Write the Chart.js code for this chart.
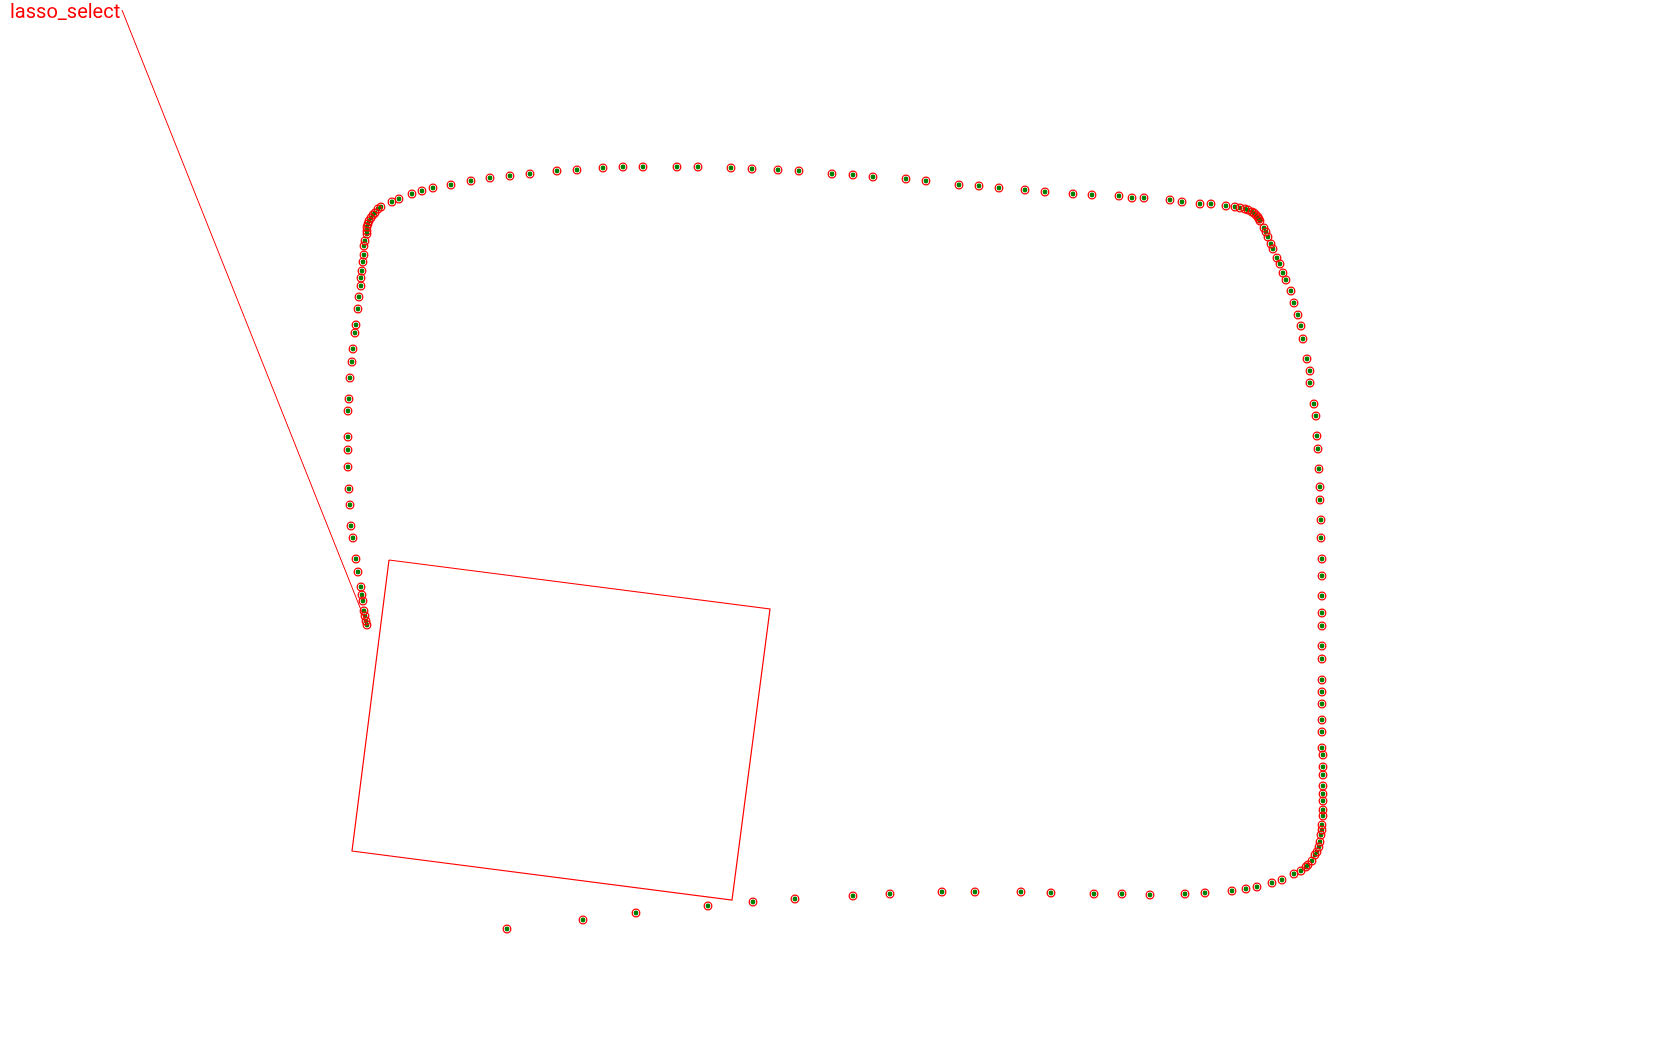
<!DOCTYPE html>
<html>
<head>
<meta charset="utf-8">
<script src="https://cdn.jsdelivr.net/npm/chart.js@4/dist/chart.umd.min.js"></script>
<style>
  html, body { margin: 0; padding: 0; background: #fff; }
  #wrap { position: relative; width: 1680px; height: 1050px; }
  #label { position: absolute; left: 10px; top: 0px; font: 20px Roboto, sans-serif; line-height: 22px; color: #ff0000; white-space: nowrap; }
  canvas { position: absolute; left: 0; top: 0; }
</style>
</head>
<body>
<div id="wrap">
  <canvas id="c" width="1680" height="1050"></canvas>
  <div id="label">lasso_select</div>
</div>
<script>
// Lasso path points (x, y in plot units; y grows downward)
const pointX = [367,366,365,364,363,362,361,358,356,353,351,350,349,348,348,348,348,349,350,352,353,355,356,358,359,361,361,362,363,364,364,365,367,367,367,368,369,371,373,375,378,381,
  392,399,412,422,433,451,471,490,510,530,557,577,603,623,643,677,698,731,752,778,799,832,853,873,906,926,959,979,999,1025,1045,1073,1092,1119,1132,1144,1170,1182,1200,1211,1226,1235,
  1240,1245,1248,1252,1254,1256,1258,1259,1260,
  1264,1266,1268,1271,1273,1277,1280,1283,1286,1291,1294,1298,1301,1303,1307,1310,1310,1314,1316,1317,1318,1319,1320,1320,1321,1321,1322,1322,1322,1322,1322,1322,1322,1322,1322,1322,1322,1322,1322,1323,1323,1323,1323,1323,1323,1323,1323,1322,1322,1321,1320,1319,1317,1315,1312,1308,1306,1301,1294,1282,1272,1257,1246,1232,1205,1185,1150,1122,1094,1051,1021,975,942,890,853,795,753,708,636,583,507];
const pointY = [625,621,616,611,601,595,587,572,559,538,526,505,489,467,450,437,411,399,378,362,349,333,325,309,297,286,278,271,262,255,246,241,234,231,227,224,221,218,215,213,209,207,
  202,199,194,191,188,185,181,178,176,174,171,170,168,167,167,167,167,168,169,170,171,174,175,177,179,181,185,186,188,190,192,194,195,196,198,198,200,202,204,204,206,207,
  208,209,210,212,213,215,217,219,221,
  228,232,237,244,249,258,264,273,280,291,303,315,326,339,359,371,383,404,416,436,449,469,487,500,520,538,559,576,596,613,626,646,659,680,692,704,720,732,748,755,767,775,786,794,801,810,816,825,830,835,842,847,852,855,861,865,867,871,874,880,883,887,889,891,893,894,895,894,894,893,892,892,892,894,896,899,902,906,913,920,929];

// Rotated selection rectangle corners (closed)
const rectX = [389, 770, 732, 352, 389];
const rectY = [560, 609, 900, 851, 560];

// Pointer line from the label to the lasso start
const pointerX = [122, 367];
const pointerY = [10, 625];

const zip = (xs, ys) => xs.map((x, i) => ({ x: x, y: ys[i] }));

new Chart(document.getElementById('c'), {
  type: 'scatter',
  data: {
    datasets: [
      {
        data: zip(rectX, rectY), showLine: true, borderColor: '#ff0000', borderWidth: 1.2,
        pointRadius: 0, fill: false, tension: 0, clip: false
      },
      {
        data: zip(pointerX, pointerY), showLine: true, borderColor: '#ff0000', borderWidth: 1,
        pointRadius: 0, fill: false, tension: 0, clip: false
      },
      {
        data: zip(pointX, pointY), showLine: false, pointRadius: 3.8, pointBorderWidth: 1.3,
        pointBorderColor: '#ff0000', pointBackgroundColor: 'rgba(0,0,0,0)', clip: false
      },
      {
        data: zip(pointX, pointY), showLine: false, pointRadius: 2.4, pointBorderWidth: 0,
        pointBackgroundColor: '#008000', pointBorderColor: '#008000', clip: false
      }
    ]
  },
  options: {
    responsive: false,
    animation: false,
    events: [],
    layout: { padding: 0, autoPadding: false },
    plugins: { legend: { display: false }, tooltip: { enabled: false } },
    scales: {
      x: { type: 'linear', min: 0, max: 1680, display: false },
      y: { type: 'linear', min: 0, max: 1050, reverse: true, display: false }
    }
  }
});
</script>
</body>
</html>
